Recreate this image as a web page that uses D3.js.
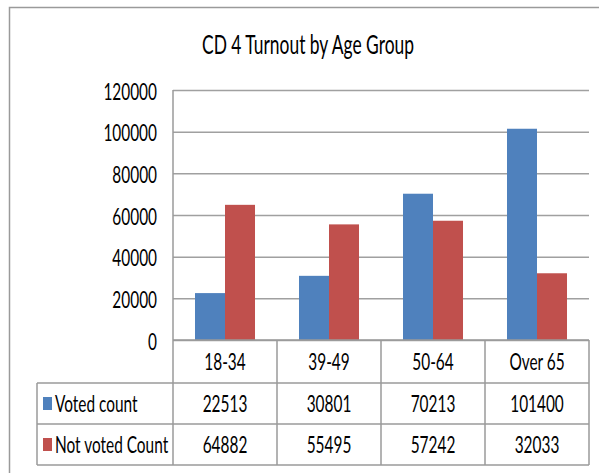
<!DOCTYPE html>
<html>
<head>
<meta charset="utf-8">
<script src="https://cdn.jsdelivr.net/npm/d3@7"></script>
<style>
  body { margin: 0; background: #fff; }
  text { font-family: Lato, "Liberation Sans", sans-serif; fill: #000; }
</style>
</head>
<body>
<script>
// data
const categories = ['18-34', '39-49', '50-64', 'Over 65']
const seriesNames = ['Voted count', 'Not voted Count']
const voted = [22513, 30801, 70213, 101400]
const notVoted = [64882, 55495, 57242, 32033]
const yTicks = [0, 20000, 40000, 60000, 80000, 100000, 120000]
const colors = ['#4f81bd', '#c0504d']

const W = 599, H = 473
const plot = { left: 173, right: 589, top: 90, bottom: 340 }
const rowH = [43, 41, 41] // header row, then one per series
const tableLeft = 37
const sx = 0.67 // text looks squeezed sideways
const fs = 23

const svg = d3.select('body').append('svg').attr('width', W).attr('height', H)

// outer frame, only top and left are inside the window
svg.append('rect').attr('x', 9.5).attr('y', 7.5).attr('width', 620).attr('height', 500)
    .attr('fill', 'none').attr('stroke', '#9a9a9a').attr('stroke-width', 1.5)

// squeezed text helper
let label = (x, y, str, size, anchor) => svg.append('text')
    .attr('transform', `translate(${x},${y}) scale(${sx},1)`)
    .attr('text-anchor', anchor || 'middle')
    .attr('dy', '0.36em')
    .style('font-size', size + 'px')
    .text(str)

label(308, 45, 'CD 4 Turnout by Age Group', 26)

let y = d3.scaleLinear().domain([0, 120000]).range([plot.bottom, plot.top])
let x = d3.scaleBand().domain(categories).range([plot.left, plot.right])
    .paddingInner(0.423).paddingOuter(0.2115)
let xSub = d3.scaleBand().domain(seriesNames).range([0, x.bandwidth()])

// gridlines + tick labels
let yAxis = d3.axisLeft(y).tickValues(yTicks).tickFormat(d3.format('d'))
    .tickSize(-(plot.right - plot.left)).tickPadding(16)
let gy = svg.append('g').attr('transform', `translate(${plot.left},0)`).call(yAxis)
gy.select('.domain').remove()
gy.selectAll('.tick line').attr('stroke', '#a0a0a0').attr('stroke-width', 1.5)
gy.selectAll('.tick text')
    .attr('x', null).attr('dy', '0.36em')
    .attr('transform', `translate(-16,1) scale(${sx},1)`)
    .style('font-size', fs + 'px').style('font-family', 'Lato, "Liberation Sans", sans-serif')
    .attr('fill', '#000')

// bars
let series = [voted, notVoted]
seriesNames.forEach((name, s) => {
    svg.append('g').selectAll('rect').data(series[s]).enter().append('rect')
        .attr('x', (d, i) => x(categories[i]) + xSub(name))
        .attr('y', d => y(d))
        .attr('width', xSub.bandwidth())
        .attr('height', d => y(0) - y(d))
        .attr('fill', colors[s])
})

// data table under the plot
let half = (x.step() - x.bandwidth()) / 2
let edges = categories.map(c => x(c) - half).concat([plot.right])
let rowTop = [plot.bottom, plot.bottom + rowH[0], plot.bottom + rowH[0] + rowH[1]]
let tableBottom = rowTop[2] + rowH[2]
let grid = svg.append('g').attr('stroke', '#9a9a9a').attr('stroke-width', 1.5)

grid.append('line').attr('x1', plot.left).attr('x2', plot.right).attr('y1', plot.bottom).attr('y2', plot.bottom)
grid.append('line').attr('x1', plot.left).attr('x2', plot.left).attr('y1', plot.top).attr('y2', plot.bottom)
rowTop.slice(1).concat([tableBottom]).forEach(yy => {
    grid.append('line').attr('x1', tableLeft).attr('x2', plot.right).attr('y1', yy).attr('y2', yy)
})
grid.append('line').attr('x1', tableLeft).attr('x2', tableLeft).attr('y1', rowTop[1]).attr('y2', tableBottom)
edges.forEach(ex => {
    grid.append('line').attr('x1', ex).attr('x2', ex).attr('y1', plot.bottom).attr('y2', tableBottom)
})

categories.forEach((c, i) => {
    let cx = x(c) + x.bandwidth() / 2
    label(cx, rowTop[0] + rowH[0] / 2, c, fs)
    series.forEach((vals, s) => label(cx, rowTop[s + 1] + rowH[s + 1] / 2, vals[i], fs))
})

seriesNames.forEach((name, s) => {
    let cy = rowTop[s + 1] + rowH[s + 1] / 2
    svg.append('rect').attr('x', 43).attr('y', cy - 6.5).attr('width', 9).attr('height', 13).attr('fill', colors[s])
    label(55, cy, name, fs, 'start')
})
</script>
</body>
</html>
